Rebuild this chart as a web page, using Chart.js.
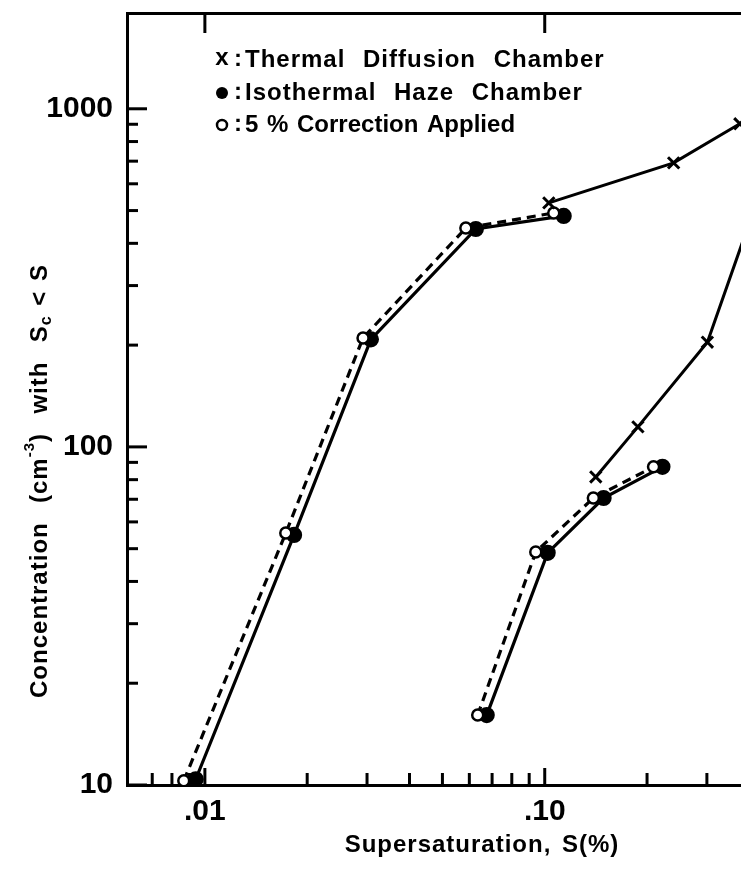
<!DOCTYPE html>
<html>
<head>
<meta charset="utf-8">
<script src="https://cdn.jsdelivr.net/npm/chart.js@4.4.0/dist/chart.umd.min.js"></script>
<style>
  html, body { margin: 0; padding: 0; background: #fff; }
  #wrap { width: 741px; height: 874px; }
</style>
</head>
<body>
<div id="wrap"><canvas id="ccnChart"></canvas></div>
<script>
// axis ranges (log-log), right edge of the figure is cut off
const xMin = 0.0059, xMax = 0.378;
const yMin = 10, yMax = 1920;

const xMajorTicks = [0.01, 0.1];
const xTickLabels = ['.01', '.10'];
const xMinorTicks = [0.007, 0.008, 0.009, 0.02, 0.03, 0.04, 0.05, 0.06, 0.07, 0.08, 0.09, 0.2, 0.3];
const yMajorTicks = [10, 100, 1000];
const yTickLabels = ['10', '100', '1000'];
const yMinorTicks = [20, 30, 40, 50, 60, 70, 80, 90, 200, 300, 400, 500, 600, 700, 800, 900];

// Isothermal haze chamber (filled dots), two runs
const ihcLeftS = [0.0094, 0.0183, 0.0308, 0.0627, 0.1137];
const ihcLeftN = [10.4, 54.9, 208, 441, 482];
const ihcRightS = [0.0675, 0.102, 0.149, 0.222];
const ihcRightN = [16.1, 48.6, 70.6, 87.3];

// 5% correction applied (open circles)
const corrLeftS = [0.00867, 0.0173, 0.0292, 0.0586, 0.1063];
const corrLeftN = [10.3, 55.6, 210, 444, 492];
const corrRightS = [0.0635, 0.0941, 0.139, 0.209];
const corrRightN = [16.1, 48.9, 70.6, 87.3];

// Thermal diffusion chamber (x marks)
const tdcUpperS = [0.1028, 0.2395, 0.375];
const tdcUpperN = [527, 692, 903];
const tdcLowerS = [0.1413, 0.188, 0.301, 0.42];
const tdcLowerN = [81.5, 114.6, 204, 530];

const FONT = '"Liberation Sans", Arial, sans-serif';

function pts(s, n) {
    return s.map((v, i) => ({ x: v, y: n[i] }));
}

function solid(s, n) {
    return {
        data: pts(s, n), showLine: true, borderColor: '#000', borderWidth: 3.2,
        pointStyle: 'circle', pointRadius: 6.5, pointBackgroundColor: '#000', pointBorderColor: '#000'
    };
}

function dashed(s, n) {
    return {
        data: pts(s, n), showLine: true, borderColor: '#000', borderWidth: 3.2, borderDash: [9, 6],
        pointStyle: 'circle', pointRadius: 5.5, pointBackgroundColor: '#fff',
        pointBorderColor: '#000', pointBorderWidth: 2.5
    };
}

function crosses(s, n) {
    return {
        data: pts(s, n), showLine: true, borderColor: '#000', borderWidth: 3,
        pointStyle: 'crossRot', pointRadius: 8, pointBorderColor: '#000', pointBorderWidth: 3
    };
}

function noPad(s) {
    s.paddingTop = 0; s.paddingBottom = 0; s.paddingLeft = 0; s.paddingRight = 0;
}

// ticks pointing into the plot, legend text and axis titles
const paperMarks = {
    id: 'paperMarks',
    afterDraw(chart) {
        const { ctx, chartArea: a, scales: { x, y } } = chart;
        ctx.save();
        ctx.strokeStyle = '#000';
        ctx.fillStyle = '#000';
        ctx.lineWidth = 3;
        const line = (x1, y1, x2, y2) => {
            ctx.beginPath(); ctx.moveTo(x1, y1); ctx.lineTo(x2, y2); ctx.stroke();
        };
        xMajorTicks.forEach(v => {
            const px = x.getPixelForValue(v);
            line(px, a.bottom, px, a.bottom - 17);
            line(px, a.top, px, a.top + 20);
        });
        xMinorTicks.forEach(v => {
            const px = x.getPixelForValue(v);
            line(px, a.bottom, px, a.bottom - 12);
        });
        yMajorTicks.forEach(v => {
            const py = y.getPixelForValue(v);
            line(a.left, py, a.left + 20, py);
        });
        yMinorTicks.forEach(v => {
            const py = y.getPixelForValue(v);
            line(a.left, py, a.left + 11, py);
        });

        // legend
        ctx.textBaseline = 'middle';
        ctx.font = 'bold 24px ' + FONT;
        const rows = [
            { y: 60, label: 'Thermal Diffusion Chamber', ls: '1px', gap: '10px' },
            { y: 93, label: 'Isothermal Haze Chamber', ls: '1px', gap: '10px' },
            { y: 125, label: '5 % Correction Applied', ls: '0px', gap: '2px' }
        ];
        ctx.textAlign = 'center';
        ctx.fillText('x', 222, rows[0].y - 2);
        ctx.beginPath(); ctx.arc(222, rows[1].y, 6, 0, Math.PI * 2); ctx.fill();
        ctx.lineWidth = 2.5;
        ctx.beginPath(); ctx.arc(222, rows[2].y, 5, 0, Math.PI * 2); ctx.stroke();
        ctx.textAlign = 'left';
        rows.forEach(r => {
            ctx.letterSpacing = r.ls;
            ctx.wordSpacing = r.gap;
            ctx.fillText(':', 234, r.y - 1);
            ctx.fillText(r.label, 245, r.y);
        });

        // x title
        ctx.letterSpacing = '1px';
        ctx.wordSpacing = '3px';
        ctx.font = 'bold 24px ' + FONT;
        ctx.textAlign = 'center';
        ctx.fillText('Supersaturation, S(%)', 482, 845);

        // y title with superscript and subscript
        ctx.wordSpacing = '2px';
        ctx.translate(40, 481);
        ctx.rotate(-Math.PI / 2);
        ctx.textAlign = 'left';
        const parts = [
            { t: 'Concentration  (cm', size: 24, dy: 0 },
            { t: '-3', size: 15, dy: -10 },
            { t: ')  with  S', size: 24, dy: 0 },
            { t: 'c', size: 16, dy: 7 },
            { t: ' < S', size: 24, dy: 0 }
        ];
        let total = 0;
        parts.forEach(p => { ctx.font = 'bold ' + p.size + 'px ' + FONT; p.w = ctx.measureText(p.t).width; total += p.w; });
        let cx = -total / 2;
        parts.forEach(p => {
            ctx.font = 'bold ' + p.size + 'px ' + FONT;
            ctx.fillText(p.t, cx, p.dy);
            cx += p.w;
        });
        ctx.restore();
    }
};

new Chart(document.getElementById('ccnChart'), {
    type: 'scatter',
    data: {
        datasets: [
            crosses(tdcUpperS, tdcUpperN),
            crosses(tdcLowerS, tdcLowerN),
            dashed(corrLeftS, corrLeftN),
            dashed(corrRightS, corrRightN),
            solid(ihcLeftS, ihcLeftN),
            solid(ihcRightS, ihcRightN)
        ]
    },
    options: {
        responsive: true,
        maintainAspectRatio: false,
        animation: false,
        layout: { padding: 0, autoPadding: false },
        plugins: { legend: { display: false }, tooltip: { enabled: false } },
        scales: {
            x: {
                type: 'logarithmic', position: 'bottom', min: xMin, max: xMax,
                afterBuildTicks: s => { s.ticks = xMajorTicks.map(v => ({ value: v })); },
                afterFit: s => { s.height = 89; noPad(s); },
                grid: { display: false },
                border: { display: true, color: '#000', width: 3 },
                ticks: {
                    autoSkip: false, maxRotation: 0, padding: 1, color: '#000',
                    font: { family: FONT, size: 30, weight: 'bold' },
                    callback: v => xTickLabels[xMajorTicks.indexOf(v)] || ''
                }
            },
            xTop: {
                type: 'logarithmic', position: 'top', min: xMin, max: xMax,
                afterFit: s => { s.height = 13; noPad(s); },
                grid: { display: false },
                border: { display: true, color: '#000', width: 3 },
                ticks: { display: false }
            },
            y: {
                type: 'logarithmic', position: 'left', min: yMin, max: yMax,
                afterBuildTicks: s => { s.ticks = yMajorTicks.map(v => ({ value: v })); },
                afterFit: s => { s.width = 127; noPad(s); },
                grid: { display: false },
                border: { display: true, color: '#000', width: 3 },
                ticks: {
                    autoSkip: false, padding: 6, color: '#000',
                    font: { family: FONT, size: 30, weight: 'bold' },
                    callback: v => yTickLabels[yMajorTicks.indexOf(v)] || ''
                }
            }
        }
    },
    plugins: [paperMarks]
});
</script>
</body>
</html>
